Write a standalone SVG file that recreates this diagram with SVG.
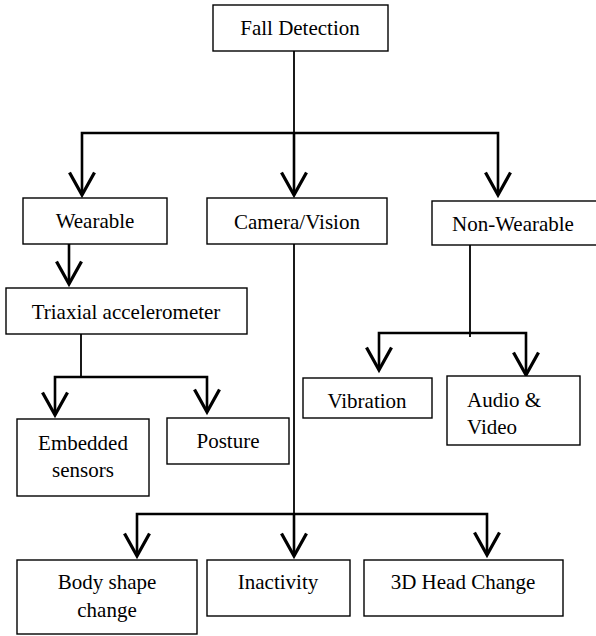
<svg xmlns="http://www.w3.org/2000/svg" width="596" height="636" viewBox="0 0 596 636">
<defs>
<marker id="v" markerUnits="userSpaceOnUse" markerWidth="30" markerHeight="30" viewBox="-20 -12 22 24" refX="0" refY="0" orient="auto" overflow="visible">
<path d="M-18,-10 L0,0 L-18,10" fill="none" stroke="#000" stroke-width="2.6" stroke-linejoin="miter"/>
</marker>
</defs>
<style>
.box{fill:#fff;stroke:#000;stroke-width:1.4}
text{font-family:'Liberation Serif','Times New Roman','DejaVu Serif',serif;font-size:21px;fill:#000;text-anchor:middle}
text.l{text-anchor:start}
.thin{fill:none;stroke:#000;stroke-width:1.8}
.thick{fill:none;stroke:#000;stroke-width:2.6;marker-end:url(#v)}
</style>
<rect width="596" height="636" fill="#fff"/>
<g id="connectors">
<path class="thin" d="M294,51 V133"/>
<path class="thick" d="M294,133 H82 V195"/>
<path class="thick" d="M294,133 H498 V195"/>
<path class="thick" d="M294,133 V195"/>
<path class="thick" d="M69,244 V284"/>
<path class="thin" d="M81,334 V377"/>
<path class="thick" d="M81,377 H55 V415"/>
<path class="thick" d="M81,377 H207 V412"/>
<path class="thin" d="M294,244 V514"/>
<path class="thick" d="M294,514 H137 V556"/>
<path class="thick" d="M294,514 H487 V555"/>
<path class="thick" d="M294,514 V556"/>
<path class="thin" d="M470,245 V337"/>
<path class="thick" d="M470,333 H379 V370"/>
<path class="thick" d="M470,333 H526 V375"/>
</g>
<g font-family="Liberation Serif, serif" font-size="21">
<g id="fall-detection"><rect class="box" x="213" y="5" width="175" height="46"/><text x="300" y="35">Fall Detection</text></g>
<g id="wearable"><rect class="box" x="23" y="198" width="144" height="46"/><text x="95" y="228">Wearable</text></g>
<g id="camera-vision"><rect class="box" x="207" y="198" width="180" height="46"/><text x="297" y="229">Camera/Vision</text></g>
<g id="non-wearable"><rect class="box" x="432" y="201" width="166" height="44"/><text x="513" y="231">Non-Wearable</text></g>
<g id="triaxial"><rect class="box" x="6" y="288" width="241" height="46"/><text x="126" y="319">Triaxial accelerometer</text></g>
<g id="embedded-sensors"><rect class="box" x="17" y="419" width="132" height="77"/><text x="83" y="450">Embedded</text><text x="83" y="477">sensors</text></g>
<g id="posture"><rect class="box" x="167" y="418" width="122" height="46"/><text x="228" y="448">Posture</text></g>
<g id="vibration"><rect class="box" x="303" y="378" width="129" height="40"/><text x="367" y="408">Vibration</text></g>
<g id="audio-video"><rect class="box" x="447" y="376" width="133" height="69"/><text class="l" x="467" y="407">Audio &amp;</text><text class="l" x="467" y="434">Video</text></g>
<g id="body-shape"><rect class="box" x="17" y="560" width="180" height="74"/><text x="107" y="589">Body shape</text><text x="107" y="617">change</text></g>
<g id="inactivity"><rect class="box" x="207" y="560" width="143" height="56"/><text x="278" y="589">Inactivity</text></g>
<g id="head-change"><rect class="box" x="364" y="560" width="199" height="56"/><text x="463" y="589">3D Head Change</text></g>
</g>
</svg>
